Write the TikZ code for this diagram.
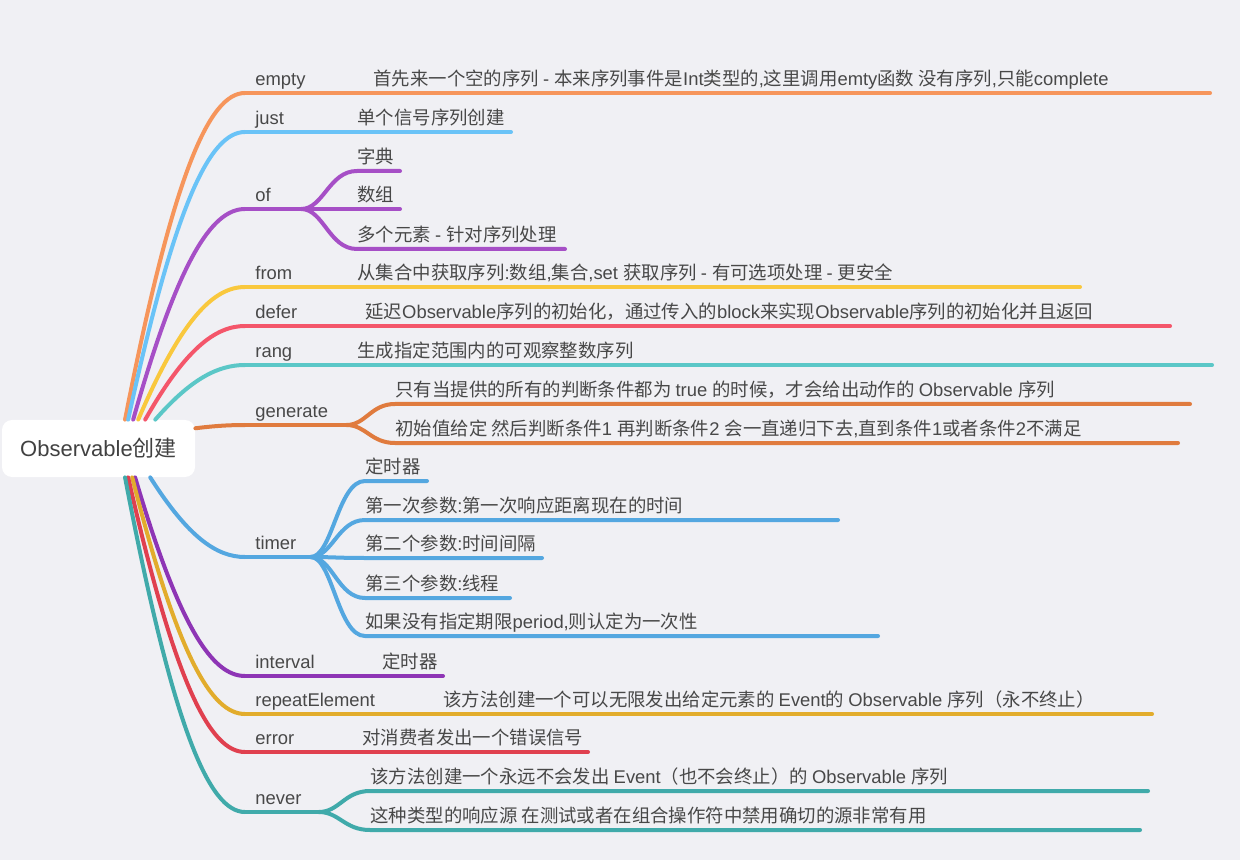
\documentclass[tikz,border=0pt]{standalone}
\usepackage{fontspec}
\usepackage{xcolor}
\setmainfont{Liberation Sans}
\newfontfamily\cjkfont{Noto Sans CJK SC}
\newfontfamily\latfont{Liberation Sans}
\usetikzlibrary{positioning}
\usetikzlibrary{calc}

% Han characters and full-width punctuation are set in the CJK face
\XeTeXinterchartokenstate=1
\newXeTeXintercharclass\hancls
\newcount\hanchar
\newcommand{\hanrange}[2]{%
  \hanchar=#1\relax
  \loop
    \XeTeXcharclass\hanchar=\hancls
    \advance\hanchar by 1
  \ifnum\hanchar<#2\relax\repeat}
\hanrange{"4E00}{"A000}
\hanrange{"3000}{"3040}
\hanrange{"FF00}{"FFF0}
\XeTeXinterchartoks 0 \hancls = {\cjkfont}
\XeTeXinterchartoks 4095 \hancls = {\cjkfont}
\XeTeXinterchartoks \hancls 0 = {\latfont}
\XeTeXinterchartoks 4095 0 = {\latfont}

\definecolor{paper}{HTML}{F0F0F4}
\definecolor{ink}{HTML}{484848}
\definecolor{cEmpty}{HTML}{F6955B}
\definecolor{cJust}{HTML}{6AC3F7}
\definecolor{cOf}{HTML}{A64FC6}
\definecolor{cFrom}{HTML}{F9C83D}
\definecolor{cDefer}{HTML}{F4566A}
\definecolor{cRang}{HTML}{5BC7C7}
\definecolor{cGen}{HTML}{E07B3E}
\definecolor{cTimer}{HTML}{54A7E0}
\definecolor{cInterval}{HTML}{8E35B5}
\definecolor{cRepeat}{HTML}{E2AC2C}
\definecolor{cError}{HTML}{E0404F}
\definecolor{cNever}{HTML}{40AAAA}

\tikzset{
  % the central topic
  rootbox/.style={fill=white, rounded corners=5pt, minimum width=96.5pt,
    minimum height=28.5pt, inner sep=0pt, text=ink!90!black,
    font=\fontsize{11}{13}\selectfont},
  % a method name sitting on its branch
  lbl/.style={anchor=south west, inner xsep=5pt, inner ysep=1.5pt,
    text height=7pt, text depth=2pt, text=ink,
    font=\fontsize{9.2}{11}\selectfont},
  % a note at the end of a branch
  note/.style={lbl, inner xsep=0pt},
  % a coloured branch line
  limb/.style={draw=#1, line width=2pt, line cap=round},
}
\newcommand{\topic}[5]{%
  \node[lbl] (#1) at (245,#3) {#5};
  \draw[limb=#4] (#2) let \p1=($(#1.south west)-(#2)$) in
    .. controls +(0.4*\x1,0.75*\y1) and +(-0.3*\x1,0) .. (#1.south west);}
\newcommand{\leaf}[7]{%
  \node[note] (#2) at (#3,#4) {#7};
  \coordinate (#2end) at (#5,#4);
  \draw[limb=#6] (#1) let \p1=($(#2.south west)-(#1)$) in
    .. controls +(0.4*\x1,0) and +(-0.5*\x1,0) .. (#2.south west) -- (#2end);}

\begin{document}
\begin{tikzpicture}[x=0.5pt, y=-0.5pt]

  \fill[paper] (0,0) rectangle (1240,860);
  \useasboundingbox (0,0) rectangle (1240,860);

  \node[rootbox] (root) at (98.5,448.5) {Observable创建};

  \topic{empty}{$(root.north west)!0.637!(root.north east)$}{93}{cEmpty}{empty}
  \leaf{empty.south west}{emptytxt}{373}{93}{1210}{cEmpty}{首先来一个空的序列 - 本来序列事件是Int类型的,这里调用emty函数 没有序列,只能complete}

  \topic{just}{$(root.north west)!0.653!(root.north east)$}{132}{cJust}{just}
  \leaf{just.south west}{justtxt}{357}{132}{511}{cJust}{单个信号序列创建}

  \topic{ofop}{$(root.north west)!0.679!(root.north east)$}{209}{cOf}{of}
  \coordinate[right=10pt of ofop.south east] (ofopfork);
  \draw[limb=cOf] (ofop.south west) -- (ofopfork);
  \leaf{ofopfork}{dict}{357}{171}{400}{cOf}{字典}
  \leaf{ofopfork}{arr}{357}{209}{400}{cOf}{数组}
  \leaf{ofopfork}{many}{357}{249}{565}{cOf}{多个元素 - 针对序列处理}

  \topic{from}{$(root.north west)!0.705!(root.north east)$}{287}{cFrom}{from}
  \leaf{from.south west}{fromtxt}{357}{287}{1080}{cFrom}{从集合中获取序列:数组,集合,set 获取序列 - 有可选项处理 - 更安全}

  \topic{defer}{$(root.north west)!0.741!(root.north east)$}{326}{cDefer}{defer}
  \leaf{defer.south west}{defertxt}{365}{326}{1170}{cDefer}{延迟Observable序列的初始化，通过传入的block来实现Observable序列的初始化并且返回}

  \topic{rang}{$(root.north west)!0.793!(root.north east)$}{365}{cRang}{rang}
  \leaf{rang.south west}{rangtxt}{357}{365}{1212}{cRang}{生成指定范围内的可观察整数序列}

  \topic{generate}{$(root.north east)!0.15!(root.south east)$}{425}{cGen}{generate}
  \coordinate[right=4pt of generate.south east] (genfork);
  \draw[limb=cGen] (generate.south west) -- (genfork);
  \leaf{genfork}{genone}{395}{404}{1190}{cGen}{只有当提供的所有的判断条件都为 true 的时候，才会给出动作的 Observable 序列}
  \leaf{genfork}{gentwo}{395}{443}{1178}{cGen}{初始值给定 然后判断条件1 再判断条件2 会一直递归下去,直到条件1或者条件2不满足}

  \topic{timer}{$(root.south west)!0.767!(root.south east)$}{557}{cTimer}{timer}
  \coordinate[right=2pt of timer.south east] (timerfork);
  \draw[limb=cTimer] (timer.south west) -- (timerfork);
  \leaf{timerfork}{clock}{365}{481}{427}{cTimer}{定时器}
  \leaf{timerfork}{first}{365}{520}{838}{cTimer}{第一次参数:第一次响应距离现在的时间}
  \leaf{timerfork}{second}{365}{558}{542}{cTimer}{第二个参数:时间间隔}
  \leaf{timerfork}{third}{365}{598}{510}{cTimer}{第三个参数:线程}
  \leaf{timerfork}{once}{365}{636}{878}{cTimer}{如果没有指定期限period,则认定为一次性}

  \topic{interval}{$(root.south west)!0.689!(root.south east)$}{676}{cInterval}{interval}
  \leaf{interval.south west}{intervaltxt}{382}{676}{443}{cInterval}{定时器}

  \topic{repeat}{$(root.south west)!0.674!(root.south east)$}{714}{cRepeat}{repeatElement}
  \leaf{repeat.south west}{repeattxt}{443}{714}{1152}{cRepeat}{该方法创建一个可以无限发出给定元素的 Event的 Observable 序列（永不终止）}

  \topic{error}{$(root.south west)!0.653!(root.south east)$}{752}{cError}{error}
  \leaf{error.south west}{errortxt}{362}{752}{588}{cError}{对消费者发出一个错误信号}

  \topic{never}{$(root.south west)!0.637!(root.south east)$}{812}{cNever}{never}
  \coordinate[right=3.5pt of never.south east] (neverfork);
  \draw[limb=cNever] (never.south west) -- (neverfork);
  \leaf{neverfork}{neverone}{370}{791}{1148}{cNever}{该方法创建一个永远不会发出 Event（也不会终止）的 Observable 序列}
  \leaf{neverfork}{nevertwo}{370}{830}{1140}{cNever}{这种类型的响应源 在测试或者在组合操作符中禁用确切的源非常有用}

\end{tikzpicture}
\end{document}
